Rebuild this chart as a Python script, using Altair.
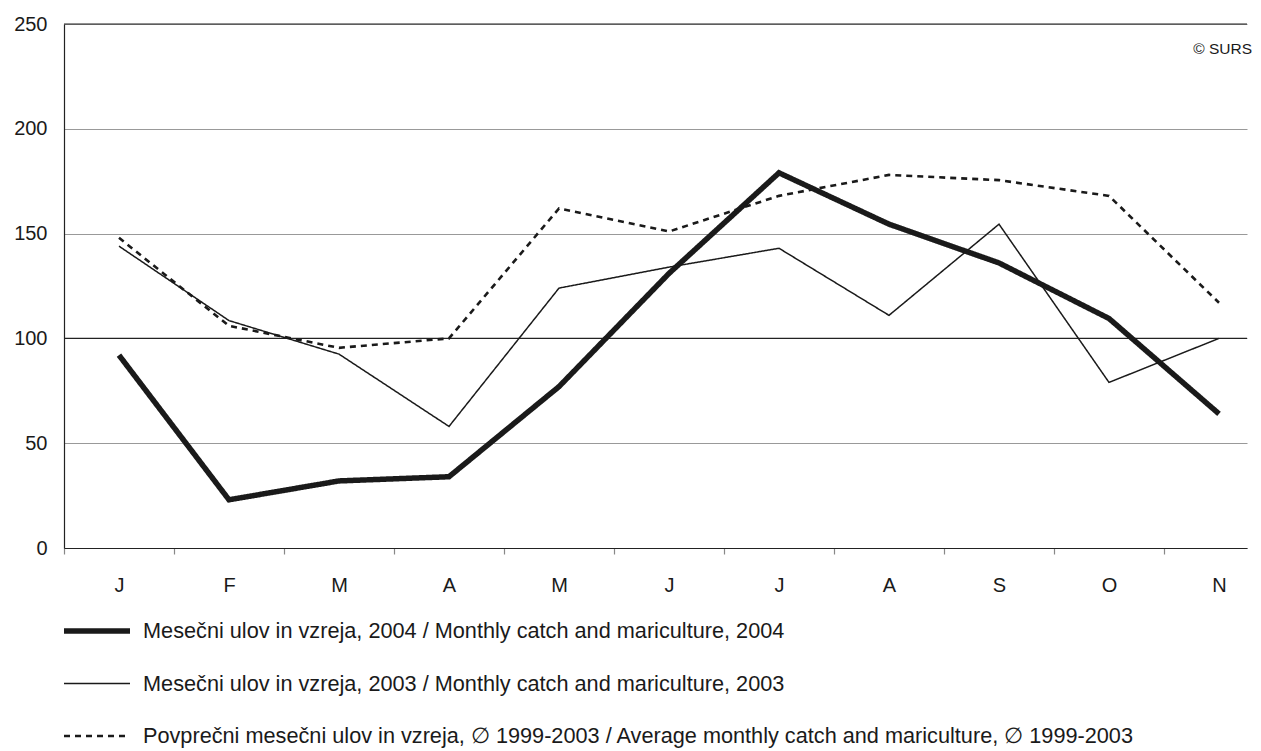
import json
import altair as alt
import pandas as pd

# ---- data ----
months = ["J", "F", "M", "A", "M", "J", "J", "A", "S", "O", "N"]
catch_2004 = [92, 23, 32, 34, 77, 131, 179, 154.5, 136, 109.5, 64]
catch_2003 = [144, 108.5, 92.5, 58, 124, 134, 143, 111, 154.5, 79, 100]
avg_1999_2003 = [148, 106, 95.5, 100, 162, 151, 168, 178, 175.5, 168, 117]

series_labels = [
    "Mesečni ulov in vzreja, 2004 / Monthly catch and mariculture, 2004",
    "Mesečni ulov in vzreja, 2003 / Monthly catch and mariculture, 2003",
    "Povprečni mesečni ulov in vzreja, \u2205 1999-2003 / Average monthly catch and mariculture, \u2205 1999-2003",
]
y_ticks = [0, 50, 100, 150, 200, 250]
dark_refs = [100, 250]
credit = "\u00a9 SURS"

# ---- long table ----
rows = []
for lab, vals in zip(series_labels, [catch_2004, catch_2003, avg_1999_2003]):
    for i, v in enumerate(vals):
        rows.append({"i": i, "month": months[i], "value": v, "series": lab})
df = pd.DataFrame(rows)
legend_df = pd.DataFrame({"series": series_labels})
ref_df = pd.DataFrame({"v": dark_refs})

FONT = "Liberation Sans"
INK = "#1a1a1a"
W, H = 1183, 524
x_max = -0.5 + W / 110.0

width_scale = alt.Scale(type="ordinal", domain=series_labels, range=[5.5, 1.5, 2.6])
dash_scale = alt.Scale(type="ordinal", domain=series_labels, range=[[1, 0], [1, 0], [6, 5]])
y_scale = alt.Scale(domain=[0, 250], nice=False, zero=True)

tick_values = [k - 0.5 for k in range(11)] + list(range(11))
label_expr = "datum.value % 1 === 0 ? " + json.dumps(months) + "[datum.value] : ''"

x_axis = alt.Axis(
    values=tick_values,
    labelExpr=label_expr,
    title=None,
    grid=False,
    domain=True,
    domainColor="#222222",
    domainWidth=1.2,
    ticks=True,
    tickSize=6,
    tickColor="#888888",
    tickWidth=1.2,
    tickOpacity={"condition": {"test": "datum.value % 1 === 0", "value": 0}, "value": 1},
    labelPadding=21,
    labelFontSize=20,
    labelFont=FONT,
    labelColor=INK,
    labelOverlap=False,
)
y_axis = alt.Axis(
    values=y_ticks,
    title=None,
    grid=True,
    gridColor="#999999",
    gridWidth=1.2,
    domain=True,
    domainColor="#222222",
    domainWidth=1.2,
    ticks=False,
    labelPadding=17,
    labelFontSize=20,
    labelFont=FONT,
    labelColor=INK,
)

lines = alt.Chart(df).mark_line(color=INK, strokeJoin="miter").encode(
    x=alt.X("i:Q", scale=alt.Scale(domain=[-0.5, x_max], nice=False, zero=False), axis=x_axis),
    y=alt.Y("value:Q", scale=y_scale, axis=y_axis),
    strokeWidth=alt.StrokeWidth("series:N", scale=width_scale, legend=None),
    strokeDash=alt.StrokeDash("series:N", scale=dash_scale, legend=None),
    detail="series:N",
    order=alt.Order("i:Q"),
)

refs = alt.Chart(ref_df).mark_rule(color="#222222", strokeWidth=1.2).encode(
    y=alt.Y("v:Q", scale=y_scale, axis=None)
)

leg_scale = alt.Scale(type="point", domain=series_labels, range=[607, 712], padding=0)
leg_y = alt.Y("series:N", sort=series_labels, scale=leg_scale, axis=None)

legend_rules = alt.Chart(legend_df).mark_rule(color=INK).encode(
    x=alt.value(0),
    x2=alt.value(66),
    y=leg_y,
    strokeWidth=alt.StrokeWidth("series:N", scale=width_scale, legend=None),
    strokeDash=alt.StrokeDash("series:N", scale=dash_scale, legend=None),
)
legend_text = alt.Chart(legend_df).mark_text(
    align="left", baseline="middle", font=FONT, fontSize=21.7, color=INK
).encode(
    x=alt.value(79),
    y=leg_y,
    text="series:N",
)

credit_text = alt.Chart(pd.DataFrame({"t": [credit]})).mark_text(
    align="right", baseline="middle", font=FONT, fontSize=15.5, color=INK
).encode(x=alt.value(W + 5), y=alt.value(25), text="t:N")

chart = (
    alt.layer(refs, lines, legend_rules, legend_text, credit_text)
    .resolve_scale(y="independent")
    .properties(
        width=W,
        height=H,
        padding={"left": 56, "top": 16, "right": 6, "bottom": 200},
        autosize=alt.AutoSizeParams(type="none"),
        background="white",
    )
    .configure_view(stroke=None)
)

chart.save("out.html", embed_options={"renderer": "svg", "actions": False})
